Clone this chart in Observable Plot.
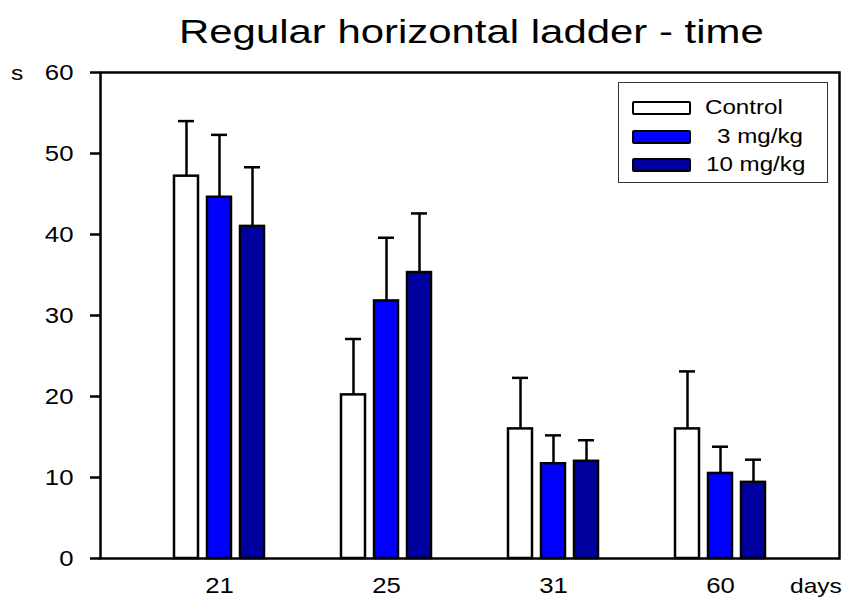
<!DOCTYPE html>
<html>
<head>
<meta charset="utf-8">
<script src="https://cdn.jsdelivr.net/npm/d3@7"></script>
<script src="https://cdn.jsdelivr.net/npm/@observablehq/plot@0.6"></script>
<style>
  body { margin: 0; background: #fff; }
  #chart { position: relative; width: 853px; height: 600px; font-family: "Liberation Sans", Arial, sans-serif; color: #000; }
  #chart svg { position: absolute; left: 0; top: 0; }
  .lbl { position: absolute; white-space: pre; line-height: 1; transform-origin: left center; }
  .legend-box { position: absolute; box-sizing: border-box; border: 1.5px solid #333; background: #fff; }
  .swatch { position: absolute; box-sizing: border-box; border: 2.5px solid #000; border-radius: 2px; }
</style>
</head>
<body>
<div id="chart"></div>
<script>
// Test days and treatment groups
const days = ["21", "25", "31", "60"];
const groups = ["Control", "3 mg/kg", "10 mg/kg"];
const yTicks = [0, 10, 20, 30, 40, 50, 60];

// Mean crossing time (s) and error (+SEM) per day
const controlMean = [47.2, 20.2, 16.0, 16.0];
const controlErr  = [6.8, 6.9, 6.3, 7.1];
const lowMean     = [44.6, 31.8, 11.7, 10.5];
const lowErr      = [7.7, 7.8, 3.5, 3.3];
const highMean    = [41.0, 35.3, 12.0, 9.4];
const highErr     = [7.3, 7.3, 2.6, 2.8];

const fills = ["#ffffff", "#0000ff", "#00009f"];

const means = [controlMean, lowMean, highMean];
const errs = [controlErr, lowErr, highErr];
const rows = days.flatMap((day, i) =>
  groups.map((group, g) => ({day, group, mean: means[g][i], err: errs[g][i]}))
);

const W = 853, H = 600;
const frameMargins = {marginLeft: 100, marginRight: 14, marginTop: 72, marginBottom: 42};
const baseStyle = {fontFamily: "Liberation Sans, Arial, sans-serif", fontSize: "21px", color: "#000", background: "transparent", overflow: "visible"};

// Layer 1: plot frame and the value axis
const axes = Plot.plot({
  width: W, height: H, ...frameMargins,
  style: baseStyle,
  y: {domain: [0, 60]},
  marks: [
    Plot.frame({stroke: "#000", strokeWidth: 2.5}),
    Plot.axisY({ticks: yTicks, tickSize: 10, tickPadding: 17, strokeWidth: 2.5, label: null, fontSize: 22})
  ]
});

// Layer 2: grouped bars with error bars, one facet per day
const bars = Plot.plot({
  width: W, height: H, ...frameMargins,
  style: baseStyle,
  fx: {domain: days, paddingInner: 0.4, paddingOuter: 0.4},
  x: {domain: groups, paddingInner: 0.27, paddingOuter: 0.135, axis: null},
  y: {domain: [0, 60], axis: null},
  color: {domain: groups, range: fills},
  marks: [
    Plot.axisFx({anchor: "bottom", tickSize: 0, tickPadding: 19, fontSize: 22, label: null}),
    Plot.ruleX(rows, {fx: "day", x: "group", y1: "mean", y2: d => d.mean + d.err, stroke: "#000", strokeWidth: 2.5}),
    Plot.tickY(rows, {fx: "day", x: "group", y: d => d.mean + d.err, stroke: "#000", strokeWidth: 2.5, insetLeft: 4, insetRight: 4}),
    Plot.barY(rows, {fx: "day", x: "group", y: "mean", fill: "group", stroke: "#000", strokeWidth: 2.5})
  ]
});

const chart = document.getElementById("chart");
chart.appendChild(axes);
chart.appendChild(bars);

// Widen tick labels about their anchor point, like the original export.
// Plain numeric x/y move into the transform; em offsets stay as they are.
const plainNumber = /^-?[\d.]+$/;
function stretchText(el, k) {
  let x = 0, y = 0;
  const ax = el.getAttribute("x"), ay = el.getAttribute("y");
  if (ax && plainNumber.test(ax)) { x = +ax; el.removeAttribute("x"); }
  if (ay && plainNumber.test(ay)) { y = +ay; el.removeAttribute("y"); }
  const t = el.getAttribute("transform") || "";
  el.setAttribute("transform", `${t} translate(${x},${y}) scale(${k},1)`);
}
d3.select(axes).selectAll('g[aria-label="y-axis tick label"] text').each(function() { stretchText(this, 1.17); });
d3.select(bars).selectAll('g[aria-label="fx-axis tick label"] text').each(function() { stretchText(this, 1.17); });

// Positioned text: baseline placed at y
function label(text, x, baseline, size, stretch) {
  const el = document.createElement("div");
  el.className = "lbl";
  el.textContent = text;
  el.style.fontSize = size + "px";
  el.style.left = x + "px";
  el.style.top = (baseline - 0.8465 * size) + "px";
  el.style.transform = `scaleX(${stretch})`;
  chart.appendChild(el);
  return el;
}

label("Regular horizontal ladder - time", 179, 43, 33, 1.27);
label("s", 11, 80, 21, 1.17);
label("days", 790, 593, 21, 1.17);

// Legend
const box = document.createElement("div");
box.className = "legend-box";
Object.assign(box.style, {left: "618px", top: "82px", width: "210px", height: "101px"});
chart.appendChild(box);

const rowBase = [114, 142.5, 171];
const textX = [705, 717, 706];
groups.forEach((g, i) => {
  const sw = document.createElement("div");
  sw.className = "swatch";
  Object.assign(sw.style, {left: "632px", top: (rowBase[i] - 13) + "px", width: "59px", height: "14px", background: fills[i]});
  chart.appendChild(sw);
  label(g, textX[i], rowBase[i], 21, 1.15);
});
</script>
</body>
</html>
